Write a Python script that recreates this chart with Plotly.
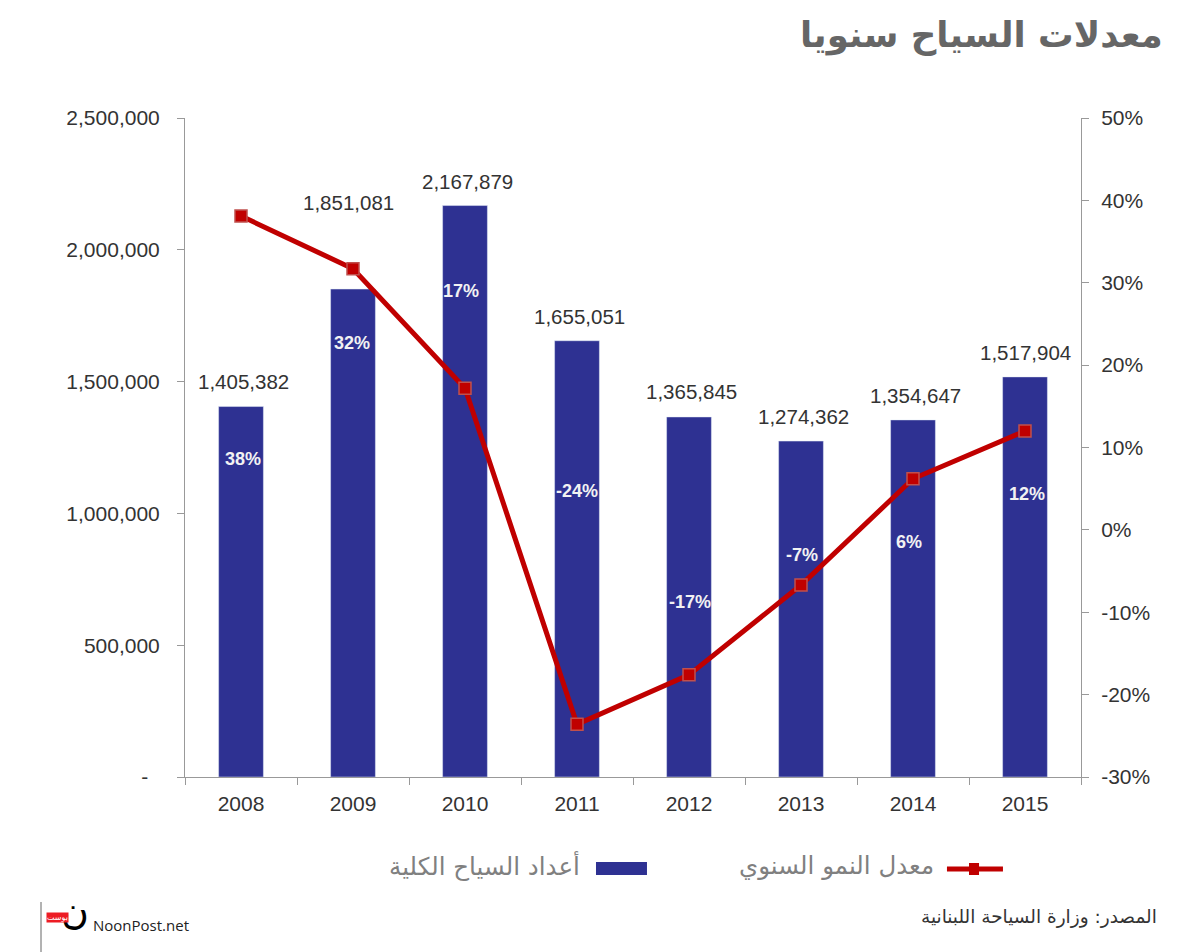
import plotly.express as px

years = ["2008", "2009", "2010", "2011", "2012", "2013", "2014", "2015"]
tourists = [1405382, 1851081, 2167879, 1655051, 1365845, 1274362, 1354647, 1517904]
growth = [38.1, 31.7, 17.2, -23.6, -17.6, -6.7, 6.2, 12.0]
growth_labels = ["38%", "32%", "17%", "-24%", "-17%", "-7%", "6%", "12%"]
growth_label_y = [1206000, 1646000, 1844000, 1085000, 664000, 842000, 891000, 1074000]  # where each label sits on the left axis
growth_label_shift = [2, -1, -4, 0, 1, 1, -4, 2]
value_label_shift = [2, -5, 2, 2, 2, 2, 2, 0]
value_label_lift = [25, 87, 24, 24, 25, 25, 24, 24]
text_font = "Liberation Sans"
arabic_font = "DejaVu Sans"

fig = px.bar(x=years, y=tourists)
fig.update_traces(marker_color="#2E3192", width=0.4, showlegend=False)
fig.add_scatter(x=years, y=growth, yaxis="y2", mode="lines+markers", showlegend=False,
                line=dict(color="#C00000", width=5),
                marker=dict(symbol="square", size=12, color="#C00000", line=dict(color="#C0504D", width=1.5)))

for i, year in enumerate(years):
    fig.add_annotation(x=i, y=tourists[i], text=f"{tourists[i]:,}", showarrow=False, xshift=value_label_shift[i],
                       yshift=value_label_lift[i], font=dict(family=text_font, size=20.5, color="#333333"))
    fig.add_annotation(x=i, y=growth_label_y[i], text=f"<b>{growth_labels[i]}</b>", showarrow=False,
                       xshift=growth_label_shift[i], font=dict(family=text_font, size=18, color="#F2F2F2"))

# text around the plot, placed on the page
fig.add_annotation(xref="paper", yref="paper", x=1.0938, y=1.126, xanchor="right", yanchor="middle", showarrow=False,
                   text="<b>معدلات السياح سنويا</b>", font=dict(family=arabic_font, size=35.5, color="#666666"))
fig.add_annotation(xref="paper", yref="paper", x=0.443, y=-0.1350, xanchor="right", yanchor="middle", showarrow=False,
                   text="أعداد السياح الكلية", font=dict(family=arabic_font, size=24.5, color="#808080"))
fig.add_annotation(xref="paper", yref="paper", x=0.838, y=-0.1350, xanchor="right", yanchor="middle", showarrow=False,
                   text="معدل النمو السنوي", font=dict(family=arabic_font, size=24.5, color="#808080"))
fig.add_annotation(xref="paper", yref="paper", x=1.0870, y=-0.2125, xanchor="right", yanchor="middle", showarrow=False,
                   text="المصدر: وزارة السياحة اللبنانية", font=dict(family=arabic_font, size=18.5, color="#333333"))
fig.add_annotation(xref="paper", yref="paper", x=-0.105, y=-0.2250, xanchor="left", yanchor="middle", showarrow=False,
                   text="NoonPost.net", font=dict(family="Open Sans", size=15, color="#222222"))
fig.add_annotation(xref="paper", yref="paper", x=-0.1406, y=-0.2030, yanchor="middle", showarrow=False,
                   text="ن", font=dict(family=arabic_font, size=38, color="#000000"))
fig.add_annotation(xref="paper", yref="paper", x=-0.1548, y=-0.2125, yanchor="middle", showarrow=False, bgcolor="#ED1C24",
                   borderpad=0, text="بوست", font=dict(family=arabic_font, size=8, color="#FFFFFF"))

# legend keys and the rule by the logo
fig.add_shape(type="rect", xref="paper", yref="paper", x0=0.4587, x1=0.5156, y0=-0.1487, y1=-0.1290,
              fillcolor="#2E3192", line_width=0)
fig.add_shape(type="line", xref="paper", yref="paper", x0=0.8504, x1=0.9129, y0=-0.1396, y1=-0.1396,
              line=dict(color="#C00000", width=5))
fig.add_shape(type="rect", xref="paper", yref="paper", x0=0.8750, x1=0.8862, y0=-0.1487, y1=-0.1305,
              fillcolor="#C00000", line_width=0)
fig.add_shape(type="line", xref="paper", yref="paper", x0=-0.1607, x1=-0.1607, y0=-0.2656, y1=-0.1897,
              line=dict(color="#666666", width=1))

fig.update_layout(width=1194, height=944, margin=dict(l=177, r=121, t=110, b=175, autoexpand=False),
                  plot_bgcolor="white", paper_bgcolor="white", showlegend=False, bargap=0.6,
                  font=dict(family=text_font, size=21, color="#333333"),
                  yaxis=dict(range=[0, 2500000], tickvals=[0, 500000, 1000000, 1500000, 2000000, 2500000],
                             ticktext=["-  ", "500,000", "1,000,000", "1,500,000", "2,000,000", "2,500,000"],
                             showgrid=False, zeroline=False, ticks="outside", ticklen=7, tickcolor="#999999",
                             showline=True, linecolor="#999999", ticklabelstandoff=13, title_text=None),
                  yaxis2=dict(overlaying="y", side="right", range=[-30, 50],
                              tickvals=[-30, -20, -10, 0, 10, 20, 30, 40, 50],
                              ticktext=["-30%", "-20%", "-10%", "0%", "10%", "20%", "30%", "40%", "50%"],
                              showgrid=False, zeroline=False, ticks="outside", ticklen=7, tickcolor="#999999",
                              showline=True, linecolor="#999999", ticklabelstandoff=8),
                  xaxis=dict(type="category", range=[-0.5, 7.5], title_text=None, tickson="boundaries", ticks="outside",
                             ticklen=7, tickcolor="#999999", showline=True, linecolor="#999999", showgrid=False,
                             tickangle=0, ticklabelstandoff=8))
fig.write_html("out.html")
